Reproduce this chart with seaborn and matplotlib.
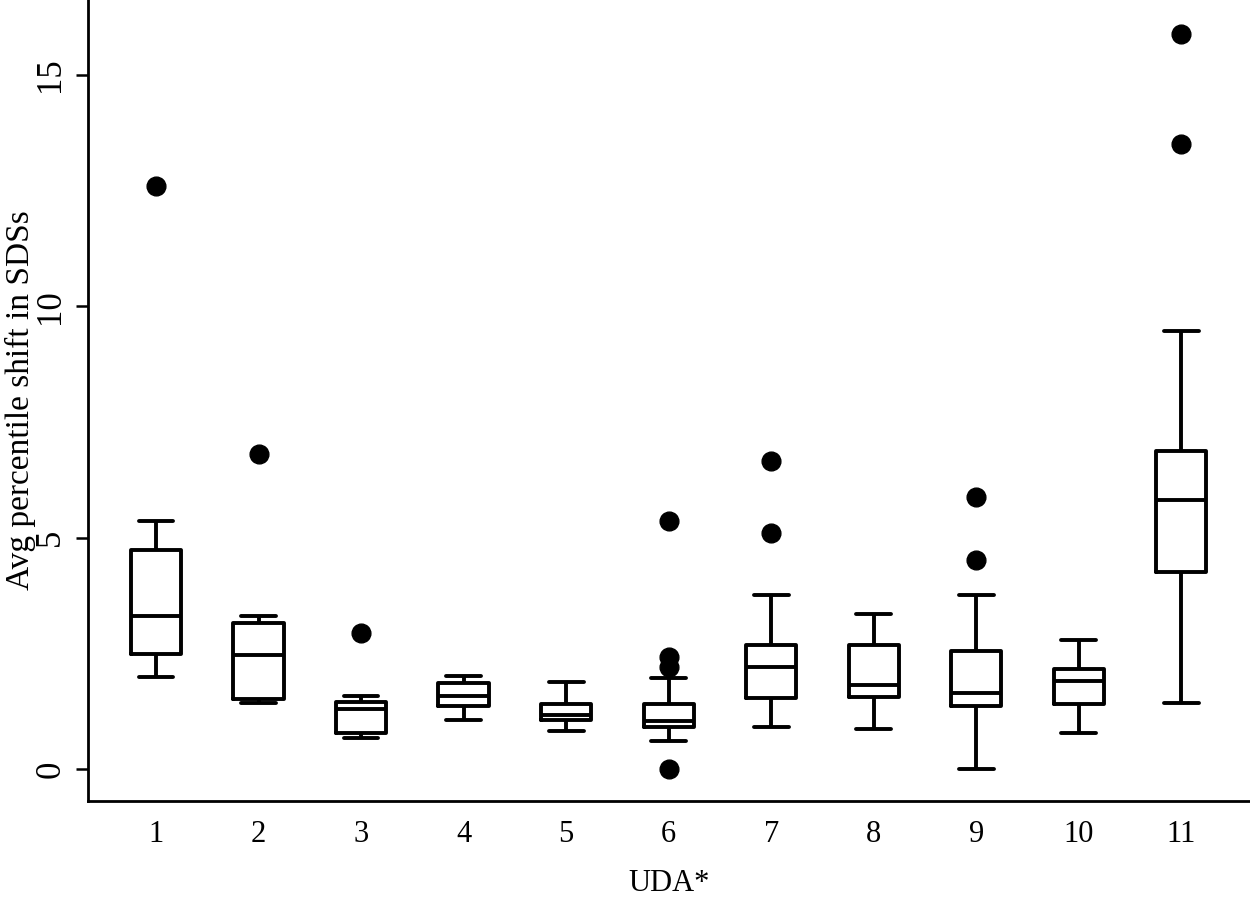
import numpy as np
import pandas as pd
import matplotlib
matplotlib.use("Agg")
import matplotlib.pyplot as plt
import seaborn as sns

# values per UDA (whisker ends, hinges, median, outliers)
uda_1 = [2.00, 2.30, 2.49, 3.00, 3.31, 4.20, 4.74, 5.36, 12.61]
uda_2 = [1.43, 1.48, 1.52, 2.00, 2.46, 2.90, 3.15, 3.31, 6.81]
uda_3 = [0.68, 0.72, 0.79, 1.05, 1.29, 1.38, 1.44, 1.58, 2.94]
uda_4 = [1.07, 1.36, 1.58, 1.87, 2.01]
uda_5 = [0.83, 1.07, 1.17, 1.40, 1.89]
uda_6 = [0.00, 0.61, 0.75, 0.85, 0.91, 0.95, 0.98, 1.00, 1.03,
         1.10, 1.20, 1.30, 1.40, 1.96, 2.21, 2.43, 5.36]
uda_7 = [0.91, 1.20, 1.40, 1.54, 1.80, 2.00, 2.20, 2.35, 2.50, 2.69, 3.76, 5.11, 6.66]
uda_8 = [0.86, 1.55, 1.82, 2.69, 3.36]
uda_9 = [0.00, 0.80, 1.10, 1.37, 1.45, 1.55, 1.65, 2.00, 2.30, 2.56, 3.76, 4.51, 5.89]
uda_10 = [0.78, 1.40, 1.90, 2.17, 2.80]
uda_11 = [1.43, 2.50, 3.60, 4.26, 4.90, 5.40, 5.81, 6.20, 6.60, 6.88, 9.47, 13.50, 15.89]

groups = ["1", "2", "3", "4", "5", "6", "7", "8", "9", "10", "11"]
values = [uda_1, uda_2, uda_3, uda_4, uda_5, uda_6, uda_7, uda_8, uda_9, uda_10, uda_11]

df = pd.DataFrame({
    "uda": [g for g, v in zip(groups, values) for _ in v],
    "shift": [x for v in values for x in v],
})

sns.set_style("white")
plt.rcParams["font.family"] = ["Liberation Serif", "DejaVu Serif"]
plt.rcParams["text.color"] = "black"
plt.rcParams["axes.labelcolor"] = "black"
plt.rcParams["xtick.color"] = "black"
plt.rcParams["ytick.color"] = "black"

fig = plt.figure(figsize=(12.5, 8.97), dpi=100)
ax = fig.add_axes([0.0704, 0.107, 0.9296, 0.893])

sns.boxplot(data=df, x="uda", y="shift", order=groups, ax=ax,
            fill=False, color="black", linewidth=2.8, width=0.49,
            capwidths=0.34,
            flierprops=dict(marker="o", markerfacecolor="black",
                            markeredgecolor="black", markersize=13.5))

ax.set_ylim(-0.69, 16.62)
ax.set_xlim(-0.663, 10.67)
ax.set_yticks([0, 5, 10, 15])
ax.set_yticklabels(["0", "5", "10", "15"], rotation=90, va="center", fontsize=25)
ax.tick_params(axis="y", length=9, width=1.8, pad=6, left=True)
ax.tick_params(axis="x", length=0, pad=14, labelsize=22)

ax.set_xlabel("UDA*", fontsize=22, labelpad=14)
ax.set_ylabel("Avg percentile shift in SDSs", fontsize=24)
ax.yaxis.set_label_coords(-0.045, 0.5)

for side in ["top", "right"]:
    ax.spines[side].set_visible(False)
for side in ["left", "bottom"]:
    ax.spines[side].set_linewidth(2.0)
    ax.spines[side].set_color("black")

fig.savefig("out.png", dpi=100)
